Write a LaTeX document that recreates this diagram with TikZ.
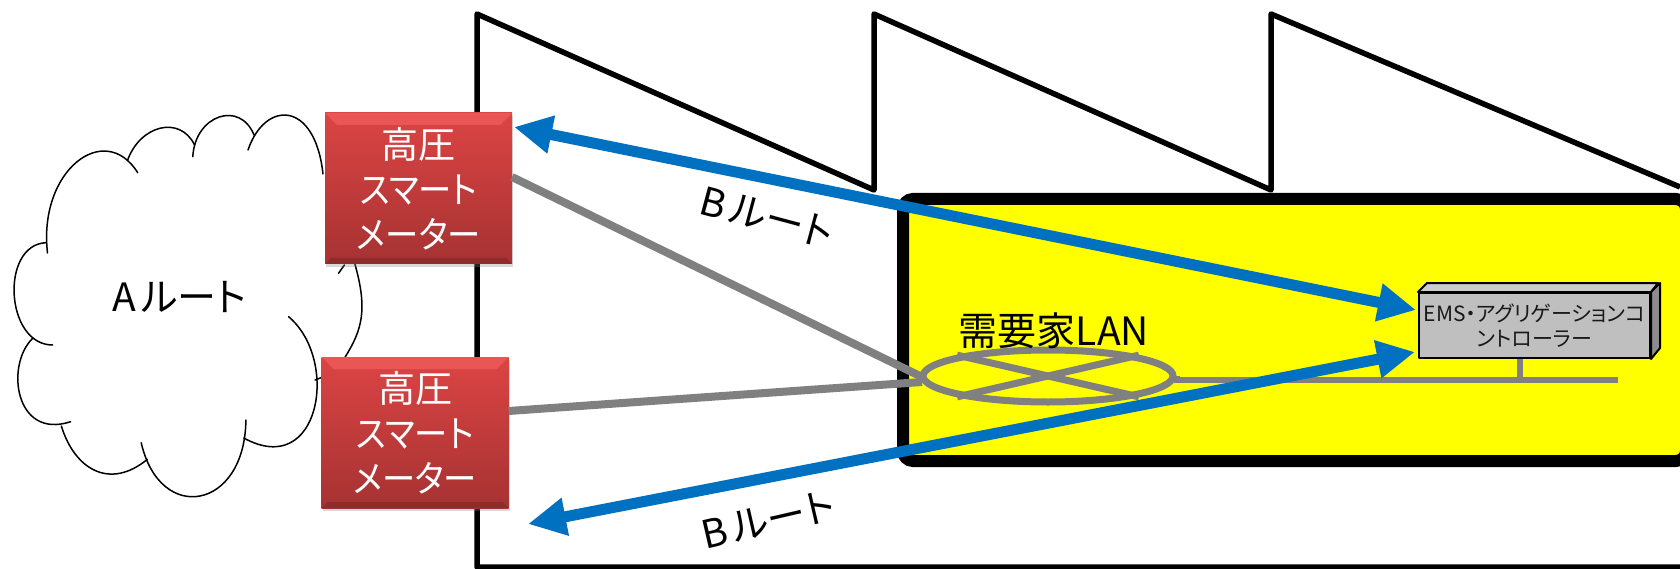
\documentclass[tikz,border=0pt]{standalone}
\usepackage{fontspec}
\setmainfont[RawFeature=+palt]{Noto Sans CJK JP}
\newfontfamily\kanafont[RawFeature=+palt,FakeStretch=0.9]{Noto Sans CJK JP}
\usetikzlibrary{arrows.meta,shapes.geometric,shadows}
\definecolor{routeblue}{HTML}{0070C0}
\definecolor{langray}{HTML}{808080}
\definecolor{sitefill}{HTML}{FFFF00}
\definecolor{meterlight}{HTML}{EA5656}
\definecolor{metertop}{HTML}{DC4444}
\definecolor{meterbottom}{HTML}{A63232}
\definecolor{meterdark}{HTML}{8E2B2B}
\newcommand{\fsize}[1]{\fontsize{#1}{#1}\selectfont}
\begin{document}
\begin{tikzpicture}[x=1pt,y=-1pt]
\tikzset{
  building/.style={draw=black,line width=5.5pt,line join=round},
  lobe/.style={draw=black,line width=1.5pt,line cap=round},
  site/.style={draw=black,fill=sitefill,line width=12pt,rounded corners=10pt},
  meter/.style={minimum width=187pt,minimum height=151pt,inner sep=0pt,
    align=center,text=white,font=\fontsize{37}{45}\selectfont,
    top color=metertop,bottom color=meterbottom,
    drop shadow={shadow xshift=1pt,shadow yshift=-3pt,opacity=.3},
    path picture={
      \fill[meterlight] (path picture bounding box.north west) -- ++(12,12)
        -| ([xshift=-12pt,yshift=-12pt]path picture bounding box.north east)
        -- (path picture bounding box.north east) -- cycle;
      \fill[meterdark] (path picture bounding box.south west) -- ++(6,-6)
        -- ([xshift=-6pt,yshift=6pt]path picture bounding box.south east)
        -- (path picture bounding box.south east) -- cycle;
    }},
  lan/.style={draw=langray,line width=7pt},
  route/.style={draw=routeblue,line width=11pt,
    {Triangle[length=38pt,width=36pt]}-{Triangle[length=38pt,width=36pt]}},
  label/.style={text=black,inner sep=0pt,font=\fsize{39}},
  emsface/.style={draw=black,line width=2pt,line join=round}
}
\useasboundingbox (0,0) rectangle (1680,569);
\clip (0,0) rectangle (1680,569);

\draw[building] (1700,567) -- (477,567) -- (477,14) -- (874,190) -- (874,14)
  -- (1271,190) -- (1271,14) -- (1680,187);

\draw[lobe] (47.5,253) .. controls (38,170) and (105,120) .. (137.7,172.7);
\draw[lobe] (127.4,160.7) .. controls (140,125) and (180,115) .. (194.6,145);
\draw[lobe] (192.8,156.7) .. controls (195,115) and (240,100) .. (254,135);
\draw[lobe] (248,150) .. controls (265,100) and (315,100) .. (323,174);
\draw[lobe] (338.5,273.3) -- (344.4,265);
\draw[lobe] (354.7,263.3) .. controls (368,310) and (362,330) .. (345,357.3);
\draw[lobe] (288.6,316.7) .. controls (340,360) and (320,480) .. (243.8,438);
\draw[lobe] (315,380) -- (322,377.3);
\draw[lobe] (245.9,420) .. controls (245,510) and (160,525) .. (141.2,442.7);
\draw[lobe] (147.4,459.3) .. controls (110,490) and (75,470) .. (61.3,426);
\draw[lobe] (70.6,421.7) .. controls (15,440) and (5,365) .. (32.7,338.3);
\draw[lobe] (52.7,345) .. controls (5,345) and (0,245) .. (45.8,242.7);
\node[label] (aroute) at (179,297) {A\hspace{5pt}ルート};

\draw[site] (903,199) rectangle (1686,461);

\node[meter] (meterA) at (418.5,188.5) {高圧\\{\kanafont スマート}\\{\kanafont メーター}};
\node[meter] (meterB) at (415,432.5) {高圧\\{\kanafont スマート}\\{\kanafont メーター}};

\node[draw=langray,line width=7pt,ellipse,inner sep=0pt,minimum width=250pt,minimum height=52pt] (lanring) at (1048,376) {};
\draw[lan] (lanring.north west) -- (lanring.south east);
\draw[lan] (lanring.south west) -- (lanring.north east);
\node[label] (lanlabel) at (1054,331) {需要家LAN};

\node[emsface,fill=black!25,minimum width=231pt,minimum height=65pt,inner sep=0pt,
  align=center,text=black!90,font=\fontsize{21}{25}\selectfont] (ems) at (1534.5,325.5)
  {EMS・アグリゲーションコ\\ントローラー};
\draw[emsface,fill=black!20] (ems.north west) -- ++(9,-9) -- ++(231,0) -- (ems.north east) -- cycle;
\draw[emsface,fill=black!45] (ems.north east) -- ++(9,-9) -- ++(0,65) -- (ems.south east) -- cycle;

\coordinate (busend) at (1618,380);
\coordinate (stemfoot) at (1520,380);
\draw[lan,line width=6pt] (lanring.east) -- (lanring.east |- busend) -- (busend);
\draw[lan,line width=6pt] (ems.south -| stemfoot) -- (stemfoot);
\coordinate (meterAport) at (512,177);
\coordinate (meterBport) at (508.6,411);
\coordinate (lanportA) at (922,377);
\coordinate (lanportB) at (922,382);
\draw[lan,line width=8pt] (meterAport) -- (lanportA);
\draw[lan,line width=8pt] (meterBport) -- (lanportB);

\coordinate (routeAmeter) at (514,127);
\coordinate (routeAems) at (1416,310);
\coordinate (routeBmeter) at (528,524);
\coordinate (routeBems) at (1415,352);
\draw[route] (routeAmeter) -- (routeAems);
\draw[route] (routeBmeter) -- (routeBems);

\node[label,rotate=-15] (brouteA) at (767,217) {B\hspace{5pt}ルート};
\node[label,rotate=13] (brouteB) at (768,520) {B\hspace{5pt}ルート};
\end{tikzpicture}
\end{document}
